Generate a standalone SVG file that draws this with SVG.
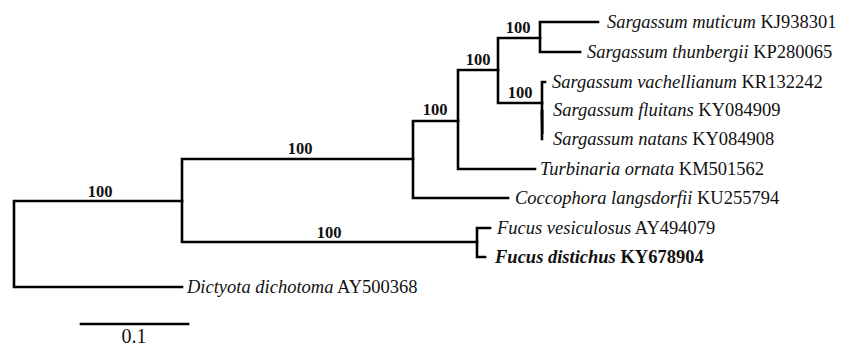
<svg xmlns="http://www.w3.org/2000/svg" width="847" height="349" viewBox="0 0 847 349">
<style>
.br{fill:none;stroke:#000;stroke-width:2.6;stroke-linecap:square;stroke-linejoin:miter}
.bs{font-family:"Liberation Serif","Times New Roman",serif;font-weight:bold;font-size:16.5px;text-anchor:middle;fill:#111}
.tx{font-family:"Liberation Serif","Times New Roman",serif;font-size:18.5px;fill:#111}
.it{font-style:italic}
.bd{font-weight:bold}
</style>
<rect width="847" height="349" fill="#fff"/>
<g id="connectors">
<path class="br" d="M182,201 H14 V287 H182"/>
<path class="br" d="M413,159 H182 V242 H477"/>
<path class="br" d="M458,121 H413 V198 H508"/>
<path class="br" d="M498,70 H458 V169 H535"/>
<path class="br" d="M540,38 H498 V103 H542"/>
<path class="br" d="M598,22 H540 V52 H580"/>
<path class="br" d="M545,82 H542 V139"/>
<path d="M540.5,110 L543.5,110 L543.5,134 L541,134 Z" fill="#000"/>
<path class="br" d="M490,228 H477 V257 H485"/>
<path class="br" d="M81,324 H188"/>
</g>
<g id="bootstrap">
<text class="bs" x="100" y="197">100</text>
<text class="bs" x="300" y="154">100</text>
<text class="bs" x="435" y="115">100</text>
<text class="bs" x="478" y="65">100</text>
<text class="bs" x="518" y="33">100</text>
<text class="bs" x="520" y="98">100</text>
<text class="bs" x="329" y="238">100</text>
</g>
<g id="n-muticum"><text class="tx" x="607" y="28"><tspan class="it">Sargassum muticum</tspan> KJ938301</text></g>
<g id="n-thunbergii"><text class="tx" x="587" y="58"><tspan class="it">Sargassum thunbergii</tspan> KP280065</text></g>
<g id="n-vachellianum"><text class="tx" x="552" y="88"><tspan class="it">Sargassum vachellianum</tspan> KR132242</text></g>
<g id="n-fluitans"><text class="tx" x="553" y="116"><tspan class="it">Sargassum fluitans</tspan> KY084909</text></g>
<g id="n-natans"><text class="tx" x="553" y="145"><tspan class="it">Sargassum natans</tspan> KY084908</text></g>
<g id="n-turbinaria"><text class="tx" x="540" y="175"><tspan class="it">Turbinaria ornata</tspan> KM501562</text></g>
<g id="n-coccophora"><text class="tx" x="515" y="204"><tspan class="it">Coccophora langsdorfii</tspan> KU255794</text></g>
<g id="n-vesiculosus"><text class="tx" x="497" y="234"><tspan class="it">Fucus vesiculosus</tspan> AY494079</text></g>
<g id="n-distichus"><text class="tx bd" x="495" y="263"><tspan class="it">Fucus distichus</tspan> KY678904</text></g>
<g id="n-dictyota"><text class="tx" x="187" y="293"><tspan class="it">Dictyota dichotoma</tspan> AY500368</text></g>
<g id="scale"><text class="tx" x="134" y="343" style="text-anchor:middle;font-size:20px">0.1</text></g>
</svg>
